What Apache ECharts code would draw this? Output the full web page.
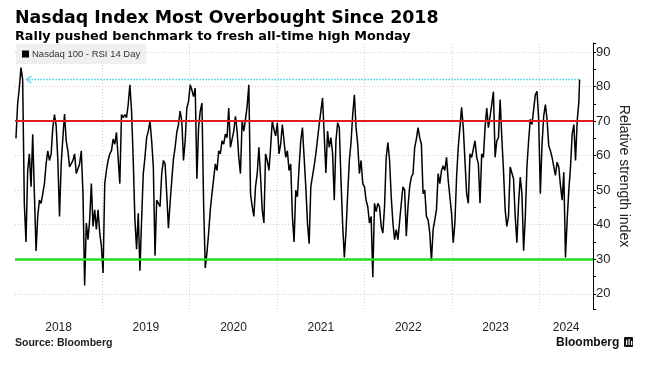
<!DOCTYPE html>
<html><head><meta charset="utf-8">
<script src="https://cdn.jsdelivr.net/npm/echarts@6/dist/echarts.min.js"></script>
<style>html,body{margin:0;padding:0;background:#fff}#c{width:652px;height:366px}</style>
</head><body><div id="c"></div>
<script>
// ---- data ----
const titleText = 'Nasdaq Index Most Overbought Since 2018';
const subtitleText = 'Rally pushed benchmark to fresh all-time high Monday';
const seriesName = 'Nasdaq 100 - RSI 14 Day';
const axisName = 'Relative strength index';
const sourceText = 'Source: Bloomberg';
const firstWeek = '2018-01-05';   // weekly readings, one every 7 days from this date
const weeklyRsi = [
  65, 75, 79.5, 85.5, 82, 46, 35, 55.7, 60.5, 51,
  66.2, 49, 32.4, 42.4, 47.1, 46.2, 49, 51.9, 57.6, 61.4,
  58.6, 60.5, 68.1, 71.9, 68.6, 58.6, 42.4, 57.6, 65.2, 72,
  64.3, 61.4, 56.7, 56.7, 58.6, 60.5, 54.8, 54.8, 57.6, 61.4,
  49, 22.4, 40.5, 35.7, 41.4, 51.9, 39.5, 44.3, 38.6, 44.3,
  37.6, 33.8, 26, 51.9, 55.7, 58.6, 60.5, 61.4, 64.8, 63.3,
  66.7, 66.2, 51.9, 71.9, 71, 71.9, 71, 74.8, 80.5, 72.9,
  58.6, 41.4, 32.9, 43.3, 26.7, 41.4, 54.8, 59.5, 65.2, 67.1,
  70, 64.3, 56.7, 31, 47.1, 46.2, 45.2, 54.8, 58.6, 57.6,
  49, 39, 46.2, 52.9, 59, 62.4, 66.7, 69, 72.9, 70,
  58.6, 64.3, 73.8, 75.7, 80.5, 79, 77.1, 79.5, 53.3, 68.1,
  72.9, 75.2, 46.2, 27.5, 31.9, 37.6, 44.3, 49, 49, 57.6,
  55.7, 61.4, 60.5, 64.3, 63.3, 66.2, 65.2, 73.8, 62.4, 62.4,
  67.1, 71.4, 67.1, 59.5, 54.8, 70, 67.1, 70.5, 74.3, 80.5,
  49, 45.2, 42.4, 51, 54.8, 62.4, 53.8, 44.3, 40.5, 60.5,
  58.6, 55.7, 62.4, 70, 67.6, 65.7, 69.5, 60.5, 63.3, 69,
  64.3, 59.5, 61.4, 55.7, 57.6, 42.4, 35, 50, 48.1, 56.7,
  64.3, 68.1, 59.5, 51, 40.5, 34.5, 51, 51, 57.1, 60.5,
  64.8, 69, 72.9, 76.7, 77.1, 55, 67.1, 62.4, 65.2, 60.5,
  47.1, 64.3, 69.5, 68.1, 52.9, 40, 30.5, 38, 49, 58.6,
  63.8, 71.9, 77.6, 68.1, 63.3, 54.8, 58.6, 51.9, 51, 47.1,
  45.2, 40.5, 42.4, 24.8, 46.2, 43.8, 46.2, 45.2, 39.5, 37.6,
  45.2, 59.5, 63.8, 58.6, 48.1, 40.5, 35.7, 38.6, 35.7, 35.7,
  46.2, 51, 50, 36.7, 45.2, 51, 53.8, 54.8, 62.4, 64.8,
  68.1, 65.2, 63.3, 49, 50, 42.4, 41.4, 37.6, 29.5, 38.6,
  41.4, 44.3, 54.8, 51.9, 55.7, 57.1, 55.7, 59.5, 52.9, 48.1,
  43.3, 34.8, 40.5, 53.8, 62.4, 68.1, 74, 68.1, 58.6, 49,
  46.2, 60.5, 59.5, 59.5, 64.3, 59.5, 57.6, 46.2, 60.5, 59.5,
  68.1, 73.8, 68.1, 71.4, 74.8, 78.5, 59.5, 64.3, 65.2, 76.2,
  65.2, 55.7, 44.3, 39.5, 42.4, 56.7, 56.7, 53.3, 42.4, 34.8,
  46.2, 53.8, 49, 32.5, 42, 56.7, 64.3, 70.5, 69, 73.3,
  77.6, 78.6, 70.5, 49, 63.3, 71.4, 74.8, 70.5, 62.9, 61.4,
  59.5, 60, 54.3, 58.1, 56.7, 51.4, 47.1, 55.2, 30.5, 41.4,
  50, 56.7, 66.2, 69, 58.6, 70, 75.7
];
const lastDate = '2024-06-17';
const lastRsi = 82;
const overboughtLevel = 70;
const oversoldLevel = 30;
const arrowStartDate = '2018-02-26';  // arrow points back to the 2018 peak
const arrowLevel = 82;
const xMin = '2018-01-01';
const xMax = '2024-08-12';
const yearStarts = ['2019-01-01','2020-01-01','2021-01-01','2022-01-01','2023-01-01','2024-01-01'];
const yearLabelDates = ['2018-07-02','2019-07-02','2020-07-02','2021-07-02','2022-07-02','2023-07-02','2024-04-22'];
const yMin = 15.6, yMax = 92.6;

// ---- build ----
function toTime(s){ const p = s.split('-').map(Number); return Date.UTC(p[0], p[1]-1, p[2]); }
const sp = firstWeek.split('-').map(Number);
const lineData = weeklyRsi.map((v,i)=>[Date.UTC(sp[0], sp[1]-1, sp[2] + 7*i), v]);
lineData.push([toTime(lastDate), lastRsi]);

const chart = echarts.init(document.getElementById('c'), null, {renderer:'canvas'});
const sans = 'Liberation Sans, Arial, sans-serif';
const gridDot = {color:'#cfcfcf', width:1, type:[1,2]};
chart.setOption({
  animation:false,
  backgroundColor:'#fff',
  title:[
    {text:titleText, left:15, top:10, padding:0, textStyle:{fontFamily:'DejaVu Sans', fontSize:17.4, fontWeight:'bold', color:'#000'}},
    {text:subtitleText, left:15, top:30, padding:0, textStyle:{fontFamily:'DejaVu Sans', fontSize:12.8, fontWeight:'bold', color:'#000'}},
    {text:sourceText, left:15, top:338, padding:0, textStyle:{fontFamily:sans, fontSize:10.5, fontWeight:'bold', color:'#222'}},
    {text:'Bloomberg', left:556, top:337, padding:0, textStyle:{fontFamily:sans, fontSize:12, fontWeight:'bold', color:'#111'}}
  ],
  graphic:[
    {type:'rect', left:624, top:337, shape:{width:9, height:10, r:1}, style:{fill:'#111'}},
    {type:'rect', left:626, top:340, shape:{width:1.2, height:5}, style:{fill:'#fff'}},
    {type:'rect', left:628.5, top:339, shape:{width:1.2, height:6}, style:{fill:'#fff'}},
    {type:'rect', left:631, top:341, shape:{width:1.2, height:4}, style:{fill:'#fff'}}
  ],
  legend:{
    data:[{name:seriesName, icon:'rect'}],
    left:16, top:44, padding:[5,6,5,6], itemWidth:7, itemHeight:7, itemGap:4,
    backgroundColor:'#efefef', selectedMode:false,
    textStyle:{fontFamily:sans, fontSize:9.5, color:'#333', padding:[0,0,0,-2]}
  },
  grid:{left:15, right:59, top:43, bottom:57, containLabel:false},
  xAxis:{
    type:'value', min:toTime(xMin), max:toTime(xMax),
    axisLine:{show:false},
    axisTick:{show:false},
    splitLine:{show:false},
    axisLabel:{customValues:yearLabelDates.map(toTime), formatter:v=>String(new Date(v).getUTCFullYear()),
      fontFamily:sans, fontSize:12, color:'#222', margin:13}
  },
  yAxis:{
    type:'value', position:'right', min:yMin, max:yMax, splitNumber:8,
    axisLine:{show:true, lineStyle:{color:'#000', width:1}},
    axisTick:{show:true, inside:false, length:3, lineStyle:{color:'#000'}},
    minorTick:{show:true, splitNumber:2, length:3, lineStyle:{color:'#000'}},
    axisLabel:{showMinLabel:false, showMaxLabel:false, fontFamily:sans, fontSize:13, color:'#222', margin:3},
    splitLine:{show:true, showMinLine:false, showMaxLine:false, lineStyle:gridDot},
    name:axisName, nameLocation:'middle', nameGap:24, nameRotate:-90, nameMoveOverlap:false,
    nameTextStyle:{fontFamily:sans, fontSize:14, color:'#222'}
  },
  series:[
    {type:'line', name:'yearGrid', data:[], z:0, silent:true,
      markLine:{silent:true, z:0, symbol:'none', label:{show:false}, lineStyle:gridDot,
        data:yearStarts.map(d=>({xAxis:toTime(d)}))}
    },
    {type:'line', name:'arrow', data:[], z:1, silent:true,
      markLine:{silent:true, z:1, symbol:['path://M0,10 L5,0 L10,10 L8.4,10 L5,3 L1.6,10 Z','none'], symbolSize:[8,6],
        label:{show:false}, lineStyle:{color:'#3fcfe6', width:1.3, type:[1.5,1.5]},
        data:[[{coord:[toTime(arrowStartDate), arrowLevel]},{coord:[toTime(lastDate), arrowLevel]}]]}
    },
    {type:'line', name:seriesName, data:lineData, showSymbol:false, symbol:'none',
      lineStyle:{color:'#000', width:1.5}, itemStyle:{color:'#000'}, z:3, silent:true},
    {type:'line', name:'levels', data:[], z:6, silent:true,
      markLine:{silent:true, z:6, symbol:'none', label:{show:false},
        data:[
          {yAxis:overboughtLevel, lineStyle:{color:'#e41b1b', width:2, type:'solid'}},
          {yAxis:oversoldLevel, lineStyle:{color:'#22dd22', width:2.5, type:'solid'}}
        ]}
    }
  ]
});
</script>
</body></html>
